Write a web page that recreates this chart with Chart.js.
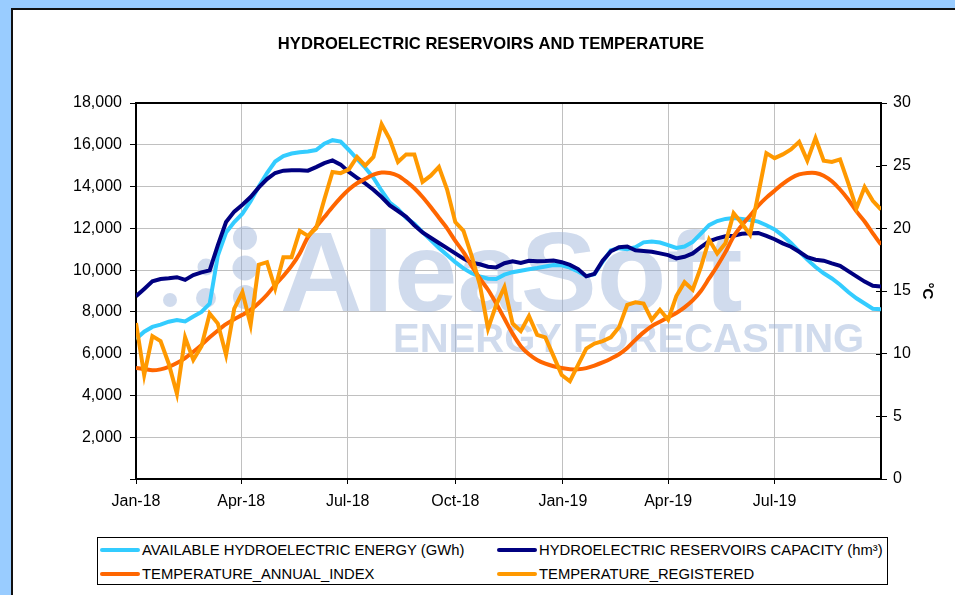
<!DOCTYPE html>
<html lang="en">
<head>
  <meta charset="UTF-8">
  <title>Hydroelectric reservoirs and temperature</title>
  <script src="https://cdn.jsdelivr.net/npm/chart.js"></script>
  <style>
    html, body { margin: 0; padding: 0; }
    body {
      width: 955px; height: 595px; overflow: hidden; position: relative;
      background: #99ccff;
      font-family: 'Liberation Sans', Arial, sans-serif;
    }
    #panel {
      position: absolute; left: 11px; top: 8px; width: 960px; height: 600px;
      background: #fff; border-left: 2px solid #111; border-top: 2px solid #111;
    }
    #chart { position: absolute; left: 0; top: 0; }
    #legend {
      position: absolute; left: 97px; top: 537px; width: 789px; height: 46px;
      border: 1px solid #000; background: #fff; font-size: 14.8px; color: #000;
    }
    .item { position: absolute; display: flex; align-items: center; height: 22px; white-space: nowrap; }
    .swatch { width: 40px; height: 4px; margin-right: 2px; border-radius: 2px; }
  </style>
</head>
<body>
  <div id="panel"></div>
  <canvas id="chart" width="955" height="595"></canvas>
  <div id="legend"></div>

  <script>
    // weekly values, first week = 1 Jan 2018
    const energyGWh = [
      6700, 7050, 7280, 7390, 7530, 7610, 7540, 7780, 8000, 8400,
      10700, 11800, 12300, 12700, 13300, 14000, 14650, 15200, 15460, 15580,
      15640, 15680, 15750, 16050, 16220, 16150, 15750, 15330, 14900, 14420,
      13800, 13230, 12930, 12500, 12220, 11820, 11440, 11060, 10720, 10380,
      10080, 9850, 9700, 9590, 9570, 9780, 9900, 9970, 10040, 10100,
      10170, 10240, 10230, 10120, 9930, 9710, 9800, 10400, 10950, 11050,
      11000, 11100, 11330, 11370, 11320, 11200, 11060, 11130, 11350, 11750,
      12150, 12350, 12450, 12490, 12450, 12400, 12320, 12150, 11950, 11650,
      11300, 10900, 10500, 10150, 9850, 9600, 9300, 8950, 8650, 8400,
      8150, 8130
    ];
    const reservoirsHm3 = [
      8750, 9100, 9460, 9570, 9610, 9660, 9530, 9760, 9890, 9990,
      11200, 12300, 12800, 13130, 13500, 13960, 14360, 14650, 14760, 14780,
      14780, 14760, 14930, 15120, 15250, 15050, 14700, 14420, 14150, 13850,
      13500, 13100, 12830, 12550, 12150, 11800, 11550, 11300, 11050, 10800,
      10550, 10350, 10280, 10160, 10130, 10330, 10420, 10340, 10450, 10430,
      10440, 10460, 10380, 10250, 10050, 9700, 9820, 10450, 10900, 11100,
      11130, 10950, 10920, 10880, 10800, 10720, 10560, 10640, 10800, 11100,
      11380, 11520, 11620, 11650, 11740, 11770, 11780, 11640, 11480, 11280,
      11120, 10880, 10620, 10500, 10450, 10320, 10200, 9950, 9700, 9450,
      9250, 9220
    ];
    const tempAnnualIndex = [
      8.86, 8.78, 8.67, 8.75, 8.95, 9.25, 9.65, 10.15, 10.7, 11.3,
      11.85, 12.35, 12.75, 13.1, 13.5, 14.05, 14.7, 15.5, 16.2, 17.0,
      18.0, 19.3, 20.1, 20.9, 21.7, 22.45, 23.1, 23.6, 23.95, 24.28,
      24.45, 24.42, 24.2, 23.75, 23.2, 22.5, 21.7, 20.85, 20.0, 19.0,
      18.1, 17.0, 16.0, 15.1, 14.0, 12.8, 11.6, 10.6, 9.95, 9.5,
      9.2, 9.0, 8.85, 8.75, 8.75, 8.85, 9.05, 9.3, 9.6, 9.95,
      10.45, 11.1, 11.7, 12.2, 12.55, 12.9, 13.25, 13.7, 14.25, 15.0,
      16.0, 17.0, 18.1, 19.35, 20.25, 21.0, 21.8, 22.45, 23.0, 23.55,
      24.0, 24.3, 24.42, 24.42, 24.2, 23.75, 23.1, 22.3, 21.35, 20.55,
      19.6, 18.7
    ];
    const tempRegistered = [
      12.45, 8.3, 11.4, 11.0, 9.2, 6.8, 11.3, 9.5, 10.6, 13.2,
      12.4, 9.9, 13.6, 14.9, 12.3, 17.1, 17.3, 15.2, 17.7, 17.7,
      19.8, 19.4, 20.0, 22.3, 24.5, 24.4, 24.7, 25.7, 25.0, 25.7,
      28.3, 27.1, 25.3, 25.9, 25.9, 23.7, 24.2, 24.9, 23.1, 20.5,
      19.8, 17.8, 15.5, 12.0, 13.9, 15.3, 12.4, 11.8, 13.0, 11.5,
      11.3, 9.8, 8.3, 7.8, 9.1, 10.4, 10.8, 11.0, 11.3, 12.1,
      13.9, 14.1, 14.0, 12.7, 13.5, 12.7, 14.6, 15.7, 15.1, 16.9,
      19.1, 18.0, 18.8, 21.2, 20.4, 19.5, 22.7, 26.0, 25.6, 25.9,
      26.3, 26.9, 25.4, 27.2, 25.4, 25.3, 25.5, 23.6, 21.6, 23.3,
      22.2, 21.5
    ];

    // x axis: days since 1 Jan 2018
    const quarterDays = [0, 90, 181, 273, 365, 455, 546];
    const quarterLabels = ['Jan-18', 'Apr-18', 'Jul-18', 'Oct-18', 'Jan-19', 'Apr-19', 'Jul-19'];
    const lastDay = 637;

    const seriesLabels = [
      'AVAILABLE HYDROELECTRIC ENERGY (GWh)',
      'HYDROELECTRIC RESERVOIRS CAPACITY (hm³)',
      'TEMPERATURE_ANNUAL_INDEX',
      'TEMPERATURE_REGISTERED'
    ];
    const seriesColors = ['#33ccff', '#000080', '#ff6600', '#ff9900'];

    const FONT = "'Liberation Sans', Arial, sans-serif";

    function weekly(values) {
      return values.map((v, i) => ({ x: i * 7, y: v }));
    }

    // title, plot frame and the AleaSoft watermark
    const decorations = {
      id: 'decorations',
      beforeDatasetsDraw(chart) {
        const ctx = chart.ctx;
        ctx.save();
        ctx.fillStyle = 'rgba(150, 176, 214, 0.45)';
        [[170, 300, 7], [206, 267, 8.5], [206, 298, 10], [245, 238, 12], [245, 268, 12.5], [245, 297, 12]]
          .forEach(([x, y, r]) => { ctx.beginPath(); ctx.arc(x, y, r, 0, Math.PI * 2); ctx.fill(); });
        ctx.textBaseline = 'alphabetic';
        ctx.textAlign = 'left';
        ctx.font = 'bold 114px ' + FONT;
        ctx.fillText('AleaSoft', 280, 311);
        ctx.font = 'bold 40px ' + FONT;
        ctx.fillText('ENERGY FORECASTING', 393, 352);
        ctx.restore();
      },
      afterDatasetsDraw(chart) {
        // right axis ticks cross the axis line
        const ctx = chart.ctx;
        const s = chart.scales.y1;
        ctx.save();
        ctx.strokeStyle = '#000';
        ctx.lineWidth = 1;
        s.ticks.forEach(t => {
          const py = Math.round(s.getPixelForValue(t.value)) + 0.5;
          ctx.beginPath();
          ctx.moveTo(s.left - 5, py);
          ctx.lineTo(s.left, py);
          ctx.stroke();
        });
        ctx.restore();
      },
      afterDraw(chart) {
        const ctx = chart.ctx;
        const a = chart.chartArea;
        ctx.save();
        ctx.strokeStyle = '#000';
        ctx.lineWidth = 2;
        ctx.beginPath();
        ctx.moveTo(a.left - 1, a.top);
        ctx.lineTo(a.right + 1, a.top);
        ctx.stroke();
        ctx.fillStyle = '#000';
        ctx.font = 'bold 16.6px ' + FONT;
        ctx.textAlign = 'center';
        ctx.textBaseline = 'middle';
        ctx.fillText('HYDROELECTRIC RESERVOIRS AND TEMPERATURE', 491, 44);
        ctx.restore();
      }
    };

    const datasets = [
      { data: weekly(energyGWh), yAxisID: 'y', order: 3 },
      { data: weekly(reservoirsHm3), yAxisID: 'y', order: 2 },
      { data: weekly(tempAnnualIndex), yAxisID: 'y1', order: 1, tension: 0.3 },
      { data: weekly(tempRegistered), yAxisID: 'y1', order: 0 }
    ].map((d, i) => Object.assign({
      label: seriesLabels[i],
      borderColor: seriesColors[i],
      backgroundColor: seriesColors[i],
      borderWidth: 4,
      pointRadius: 0,
      fill: false
    }, d));

    const tickFont = { family: FONT, size: 16 };

    const chart = new Chart(document.getElementById('chart'), {
      type: 'line',
      data: { datasets },
      plugins: [decorations],
      options: {
        responsive: false,
        animation: false,
        devicePixelRatio: 1,
        layout: { padding: { top: 103, left: 0, right: 0, bottom: 0 } },
        plugins: { legend: { display: false }, title: { display: false }, tooltip: { enabled: false } },
        scales: {
          x: {
            type: 'linear',
            min: 0,
            max: lastDay,
            afterBuildTicks(scale) { scale.ticks = quarterDays.map(v => ({ value: v })); },
            afterFit(scale) { scale.height = 116; },
            ticks: {
              autoSkip: false, maxRotation: 0, padding: 8, color: '#000', font: tickFont,
              callback: (v, i) => quarterLabels[i]
            },
            grid: { color: '#c0c0c0', tickColor: '#000', tickLength: 5, lineWidth: 1 },
            border: { color: '#000', width: 2 }
          },
          y: {
            position: 'left',
            min: 0,
            max: 18000,
            afterFit(scale) { scale.width = 136; },
            ticks: {
              stepSize: 2000, padding: 8, color: '#000', font: tickFont,
              callback: v => v === 0 ? '' : v.toLocaleString('en-US')
            },
            grid: { color: '#c0c0c0', tickColor: '#000', tickLength: 6, lineWidth: 1 },
            border: { color: '#000', width: 2 }
          },
          y1: {
            position: 'right',
            min: 0,
            max: 30,
            afterFit(scale) { scale.width = 74; },
            ticks: { stepSize: 5, padding: 6, color: '#000', font: tickFont },
            grid: { drawOnChartArea: false, tickColor: '#000', tickLength: 6 },
            border: { color: '#000', width: 2 },
            title: {
              display: true, text: '°C', color: '#000',
              font: { family: FONT, size: 15, weight: 'bold' },
              padding: { top: 19, bottom: 0 }
            }
          }
        }
      }
    });

    // legend box built from the chart's datasets
    const legend = document.getElementById('legend');
    const slots = [[2, 1], [399, 1], [2, 25], [399, 25]];
    chart.data.datasets.forEach((ds, i) => {
      const item = document.createElement('div');
      item.className = 'item';
      item.style.left = slots[i][0] + 'px';
      item.style.top = slots[i][1] + 'px';
      const sw = document.createElement('span');
      sw.className = 'swatch';
      sw.style.background = ds.borderColor;
      const txt = document.createElement('span');
      txt.textContent = ds.label;
      item.appendChild(sw);
      item.appendChild(txt);
      legend.appendChild(item);
    });
  </script>
</body>
</html>
